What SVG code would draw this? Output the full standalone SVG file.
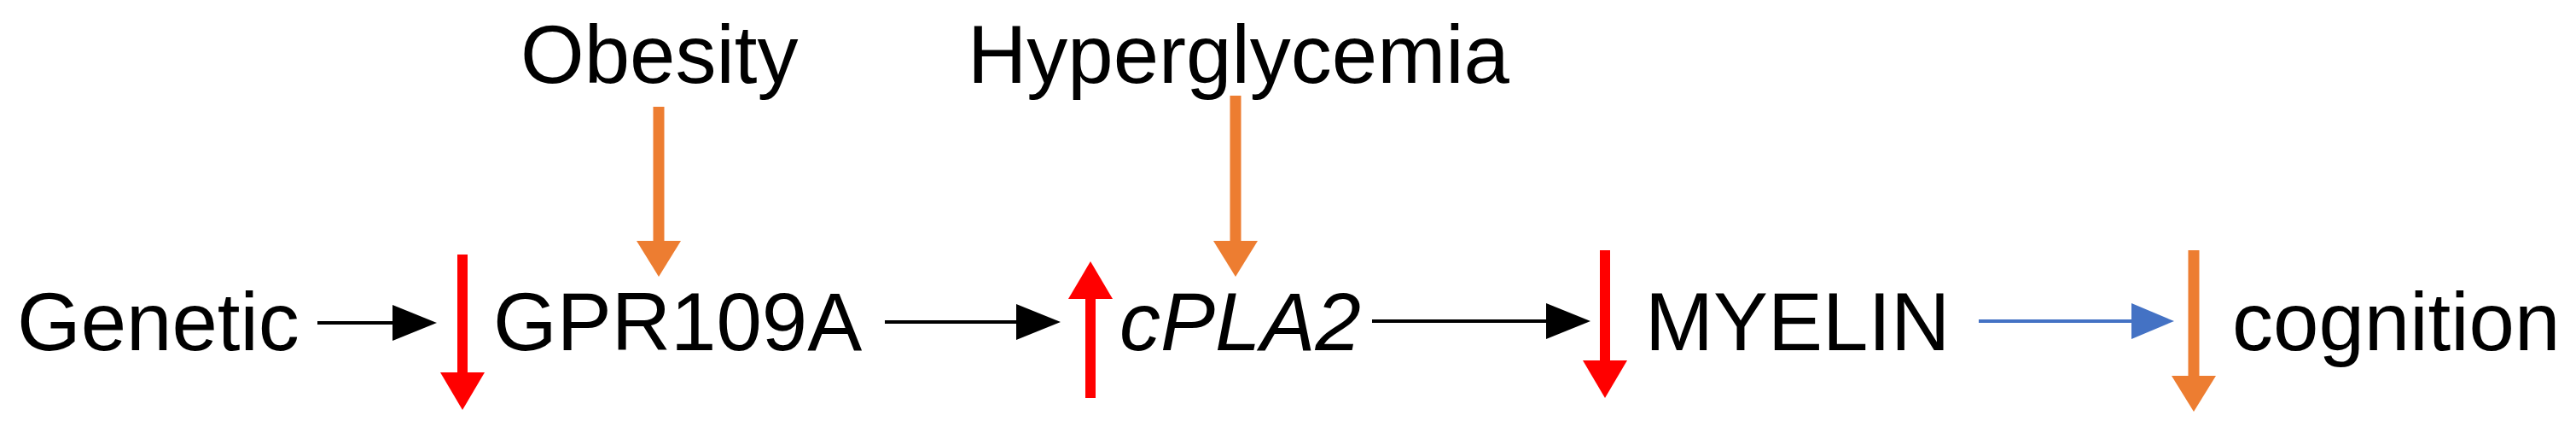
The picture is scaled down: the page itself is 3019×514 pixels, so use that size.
<svg xmlns="http://www.w3.org/2000/svg" width="3019" height="514" viewBox="0 0 3019 514">
  <style>
    .lbl { font-family: "Liberation Sans", Arial, sans-serif; font-size: 96px; fill: #000; }
    .it { font-style: italic; }
    .blk { stroke: #000; stroke-width: 4; fill: none; }
    .blu { stroke: #4472C4; stroke-width: 4; fill: none; }
    .red { stroke: #FF0000; stroke-width: 12; fill: none; }
    .org { stroke: #ED7D31; stroke-width: 13; fill: none; }
  </style>
  <defs>
    <marker id="hBlack" markerUnits="userSpaceOnUse" viewBox="0 0 52 42" markerWidth="52" markerHeight="42" refX="0" refY="21" orient="auto">
      <path d="M0,0 L52,21 L0,42 Z" fill="#000"/>
    </marker>
    <marker id="hBlue" markerUnits="userSpaceOnUse" viewBox="0 0 50 42" markerWidth="50" markerHeight="42" refX="0" refY="21" orient="auto">
      <path d="M0,0 L50,21 L0,42 Z" fill="#4472C4"/>
    </marker>
    <marker id="hRed" markerUnits="userSpaceOnUse" viewBox="0 0 44 52" markerWidth="44" markerHeight="52" refX="0" refY="26" orient="auto">
      <path d="M0,0 L44,26 L0,52 Z" fill="#FF0000"/>
    </marker>
    <marker id="hOrange" markerUnits="userSpaceOnUse" viewBox="0 0 42 52" markerWidth="42" markerHeight="52" refX="0" refY="26" orient="auto">
      <path d="M0,0 L42,26 L0,52 Z" fill="#ED7D31"/>
    </marker>
  </defs>
  <rect width="3019" height="514" fill="#fff"/>

  <g id="node-genetic"><text class="lbl" x="20" y="410">Genetic</text></g>
  <g id="node-obesity"><text class="lbl" x="610" y="97">Obesity</text></g>
  <g id="node-gpr109a"><text class="lbl" x="578" y="410">GPR109A</text></g>
  <g id="node-hyperglycemia"><text class="lbl" x="1134" y="97">Hyperglycemia</text></g>
  <g id="node-cpla2"><text class="lbl it" x="1312" y="410">cPLA2</text></g>
  <g id="node-myelin"><text class="lbl" x="1928" y="410">MYELIN</text></g>
  <g id="node-cognition"><text class="lbl" x="2616" y="410">cognition</text></g>

  <g id="connectors">
    <line class="blk" x1="372" y1="378" x2="460" y2="378" marker-end="url(#hBlack)"/>
    <line class="blk" x1="1037" y1="377" x2="1191" y2="377" marker-end="url(#hBlack)"/>
    <line class="blk" x1="1608" y1="376" x2="1812" y2="376" marker-end="url(#hBlack)"/>
    <line class="blu" x1="2319" y1="376" x2="2498" y2="376" marker-end="url(#hBlue)"/>

    <line class="red" x1="542" y1="298" x2="542" y2="436" marker-end="url(#hRed)"/>
    <line class="red" x1="1278" y1="466" x2="1278" y2="350" marker-end="url(#hRed)"/>
    <line class="red" x1="1881" y1="293" x2="1881" y2="422" marker-end="url(#hRed)"/>

    <line class="org" x1="772" y1="125" x2="772" y2="282" marker-end="url(#hOrange)"/>
    <line class="org" x1="1448" y1="112" x2="1448" y2="282" marker-end="url(#hOrange)"/>
    <line class="org" x1="2571" y1="293" x2="2571" y2="440" marker-end="url(#hOrange)"/>
  </g>
</svg>
